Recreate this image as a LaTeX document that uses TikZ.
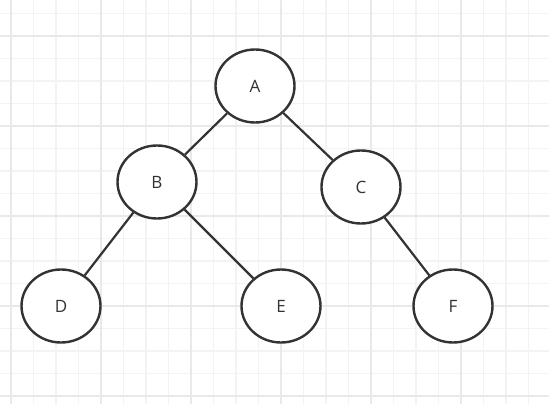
\documentclass[tikz,border=0pt]{standalone}
\usepackage{fontspec}
\setsansfont{Open Sans}
\usetikzlibrary{shapes.geometric}
\definecolor{gridminor}{HTML}{F3F3F3}
\definecolor{gridmajor}{HTML}{E9E9E9}
\definecolor{inkgray}{HTML}{333333}
\begin{document}
\begin{tikzpicture}[x=1pt,y=-1pt,
  vertex/.style={ellipse,draw=inkgray,line width=2.4pt,fill=white,minimum width=79pt,minimum height=73pt,inner sep=0,font=\sffamily\fontsize{17}{19}\selectfont,text=inkgray},
  branch/.style={draw=inkgray,line width=2.2pt}]
  \useasboundingbox (0,0) rectangle (549,404);
  \fill[white] (0,0) rectangle (549,404);
  \foreach \i in {0,...,24} {
    \draw[gridminor,line width=1.2pt] (11+22.5*\i,0) -- (11+22.5*\i,404);
    \draw[gridminor,line width=1.2pt] (0,-9+22.5*\i) -- (549,-9+22.5*\i);
  }
  \foreach \i in {0,...,6} {
    \draw[gridmajor,line width=1.2pt] (11+90*\i,0) -- (11+90*\i,404);
    \draw[gridmajor,line width=1.2pt] (0,36+90*\i) -- (549,36+90*\i);
  }
  \node[vertex] (A) at (255,86) {A};
  \node[vertex] (B) at (157,182) {B};
  \node[vertex] (C) at (361,187) {C};
  \node[vertex] (D) at (61,306) {D};
  \node[vertex] (E) at (281,306) {E};
  \node[vertex] (F) at (453,306) {F};
  \draw[branch] (A) -- (B);
  \draw[branch] (A) -- (C);
  \draw[branch] (B) -- (D);
  \draw[branch] (B) -- (E);
  \draw[branch] (C) -- (F);
\end{tikzpicture}
\end{document}
